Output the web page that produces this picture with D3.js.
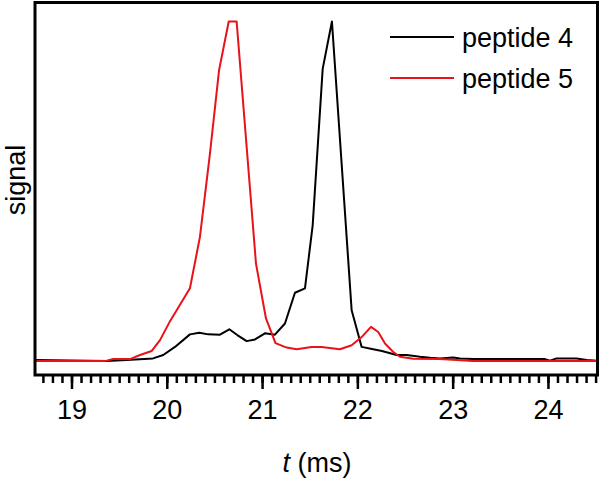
<!DOCTYPE html>
<html>
<head>
<meta charset="utf-8">
<script src="https://cdn.jsdelivr.net/npm/d3@7"></script>
<style>
  body { margin: 0; background: #fff; }
  svg { display: block; }
  text { font-family: "Liberation Sans", Arial, sans-serif; fill: #000; }
</style>
</head>
<body>
<svg id="chart" width="600" height="478"></svg>
<script>
// peptide 4 (black) : time in ms, normalised signal
const t4 = [18.617, 19.369, 19.579, 19.855, 19.963, 20.086, 20.243, 20.341, 20.435, 20.558,
  20.656, 20.740, 20.838, 20.926, 21.030, 21.135, 21.240, 21.345, 21.450, 21.531,
  21.636, 21.733, 21.940, 22.045, 22.153, 22.258, 22.412, 22.517, 22.657, 22.762,
  22.867, 23.006, 23.077, 23.213, 23.968, 24.021, 24.091, 24.301, 24.406, 24.514];
const s4 = [0, -0.003, 0, 0.005, 0.015, 0.039, 0.076, 0.081, 0.076, 0.075,
  0.091, 0.074, 0.056, 0.061, 0.079, 0.075, 0.108, 0.199, 0.212, 0.398,
  0.860, 1.0, 0.147, 0.039, 0.033, 0.027, 0.015, 0.015, 0.010, 0.007,
  0.005, 0.008, 0.005, 0.003, 0.003, -0.002, 0.005, 0.005, 0, -0.002];

// peptide 5 (red)
const t5 = [18.617, 19.352, 19.439, 19.614, 19.719, 19.842, 19.929, 20.034, 20.243, 20.348,
  20.453, 20.548, 20.650, 20.733, 20.836, 20.936, 21.041, 21.141, 21.258, 21.363,
  21.520, 21.625, 21.817, 21.940, 22.045, 22.143, 22.219, 22.290, 22.377, 22.447,
  22.587, 22.867, 23.213, 24.514];
const s5 = [-0.003, -0.003, 0.003, 0.003, 0.015, 0.027, 0.059, 0.115, 0.212, 0.364,
  0.610, 0.855, 1.0, 1.0, 0.637, 0.285, 0.123, 0.050, 0.037, 0.032,
  0.039, 0.039, 0.032, 0.044, 0.068, 0.098, 0.083, 0.049, 0.024, 0.010,
  0.004, 0.003, -0.003, -0.003];

const seriesNames = ["peptide 4", "peptide 5"];
const seriesColors = ["#000000", "#e8121a"];
const majorTicks = [19, 20, 21, 22, 23, 24];
const minorTicks = d3.range(186, 246).map(d => d / 10);

const svg = d3.select("#chart");
const plotLeft = 35, plotRight = 597.5, plotTop = 2.5, plotBottom = 375;

const x = d3.scaleLinear().domain([18.617, 24.52]).range([plotLeft, plotRight]);
const y = d3.scaleLinear().domain([-0.044, 1.056]).range([plotBottom, plotTop]);

const line = d3.line().x(d => x(d[0])).y(d => y(d[1]));

const series = [
  { name: seriesNames[0], color: seriesColors[0], pts: d3.zip(t4, s4) },
  { name: seriesNames[1], color: seriesColors[1], pts: d3.zip(t5, s5) }
];

svg.append("g")
  .selectAll("path")
  .data(series)
  .join("path")
  .attr("d", d => line(d.pts))
  .attr("fill", "none")
  .attr("stroke", d => d.color)
  .attr("stroke-width", 2)
  .attr("stroke-linejoin", "round");

// frame
svg.append("rect")
  .attr("x", plotLeft).attr("y", plotTop)
  .attr("width", plotRight - plotLeft).attr("height", plotBottom - plotTop)
  .attr("fill", "none")
  .attr("stroke", "#000")
  .attr("stroke-width", 3);

// minor ticks
svg.append("g")
  .attr("transform", `translate(0,${plotBottom})`)
  .call(d3.axisBottom(x).tickValues(minorTicks.filter(d => x(d) > plotLeft && x(d) < plotRight)).tickSize(8).tickFormat(""))
  .call(g => g.select(".domain").remove())
  .call(g => g.selectAll("line").attr("stroke-width", 2.5));

// major ticks + labels
svg.append("g")
  .attr("transform", `translate(0,${plotBottom})`)
  .call(d3.axisBottom(x).tickValues(majorTicks).tickFormat(d3.format("d")).tickSize(14).tickPadding(11))
  .call(g => g.select(".domain").remove())
  .call(g => g.selectAll("line").attr("stroke-width", 2.5))
  .call(g => g.selectAll("text").attr("font-size", 27).attr("font-family", "Liberation Sans, Arial, sans-serif"));

// axis titles
const xt = svg.append("text")
  .attr("x", 317).attr("y", 472)
  .attr("text-anchor", "middle")
  .attr("font-size", 27);
xt.append("tspan").attr("font-style", "italic").text("t");
xt.append("tspan").text(" (ms)");

svg.append("text")
  .attr("transform", "translate(25,180) rotate(-90)")
  .attr("text-anchor", "middle")
  .attr("font-size", 27)
  .text("signal");

// legend
const legend = svg.append("g").attr("transform", "translate(390,37)");
const item = legend.selectAll("g")
  .data(series)
  .join("g")
  .attr("transform", (d, i) => `translate(0,${i * 41})`);
item.append("line")
  .attr("x1", 0).attr("x2", 64)
  .attr("stroke", d => d.color)
  .attr("stroke-width", 2);
item.append("text")
  .attr("x", 72).attr("y", 10)
  .attr("font-size", 27)
  .text(d => d.name);
</script>
</body>
</html>
